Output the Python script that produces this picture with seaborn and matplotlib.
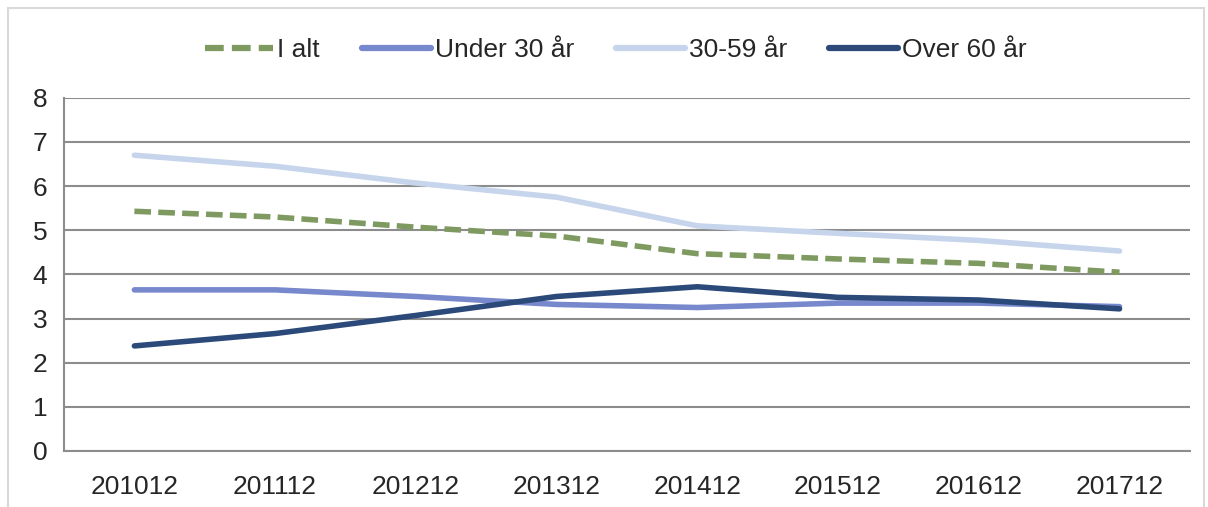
import pandas as pd
import seaborn as sns
import matplotlib.pyplot as plt
from matplotlib.patches import Rectangle

periods = ['201012', '201112', '201212', '201312', '201412', '201512', '201612', '201712']
i_alt = [5.43, 5.30, 5.07, 4.87, 4.47, 4.35, 4.25, 4.05]
under_30 = [3.65, 3.65, 3.50, 3.32, 3.25, 3.35, 3.35, 3.27]
mid_30_59 = [6.70, 6.45, 6.07, 5.75, 5.10, 4.93, 4.77, 4.53]
over_60 = [2.38, 2.66, 3.07, 3.50, 3.72, 3.48, 3.42, 3.22]

series = ['I alt', 'Under 30 år', '30-59 år', 'Over 60 år']
colors = {'I alt': '#7F9A61', 'Under 30 år': '#7788CC',
          '30-59 år': '#C6D5EC', 'Over 60 år': '#2B4A7A'}

rows = []
for name, vals in zip(series, [i_alt, under_30, mid_30_59, over_60]):
    for i, v in enumerate(vals):
        rows.append({'pos': i, 'serie': name, 'værdi': v})
df = pd.DataFrame(rows)

sns.set_style('white')
plt.rcParams['font.family'] = ['Liberation Sans', 'DejaVu Sans']

fig = plt.figure(figsize=(12.08, 5.07), dpi=100)
ax = fig.add_axes([0.053, 0.1105, 0.932, 0.6965])

sns.lineplot(data=df, x='pos', y='værdi', hue='serie', style='serie',
             palette=colors, hue_order=series, style_order=series,
             dashes={'I alt': (3, 1.3), 'Under 30 år': '', '30-59 år': '', 'Over 60 år': ''},
             linewidth=4, ax=ax, legend=True)

ax.set_xlim(-0.5, 7.5)
ax.set_ylim(0, 8)
ax.set_yticks(range(0, 9))
ax.set_xticks(range(8))
ax.set_xticklabels(periods)
ax.set_xticks([x - 0.5 for x in range(9)], minor=True)
ax.tick_params(axis='x', which='major', length=0, pad=17, labelsize=19)
ax.tick_params(axis='x', which='minor', length=6, color='#8c8c8c', width=1.5, direction='out')
ax.tick_params(axis='y', length=6, color='#8c8c8c', width=1.5, direction='out', labelsize=19, pad=6)
ax.grid(axis='y', color='#8c8c8c', linewidth=1.5)
ax.set_axisbelow(True)
ax.set_xlabel('')
ax.set_ylabel('')
for s in ['top', 'right']:
    ax.spines[s].set_visible(False)
for s in ['left', 'bottom']:
    ax.spines[s].set_color('#8c8c8c')
    ax.spines[s].set_linewidth(1.5)

handles, labels = ax.get_legend_handles_labels()
for h in handles:
    h.set_linewidth(4.5)
ax.legend(handles, labels, loc='lower center', bbox_to_anchor=(0.49, 1.035),
          ncol=4, frameon=False, fontsize=19, handlelength=2.6,
          handletextpad=0.15, columnspacing=1.6)

fig.patches.append(Rectangle((0.007, -0.01), 0.99, 0.995, transform=fig.transFigure,
                             fill=False, edgecolor='#d9d9d9', linewidth=1.5))

fig.savefig('out.png', dpi=100)
